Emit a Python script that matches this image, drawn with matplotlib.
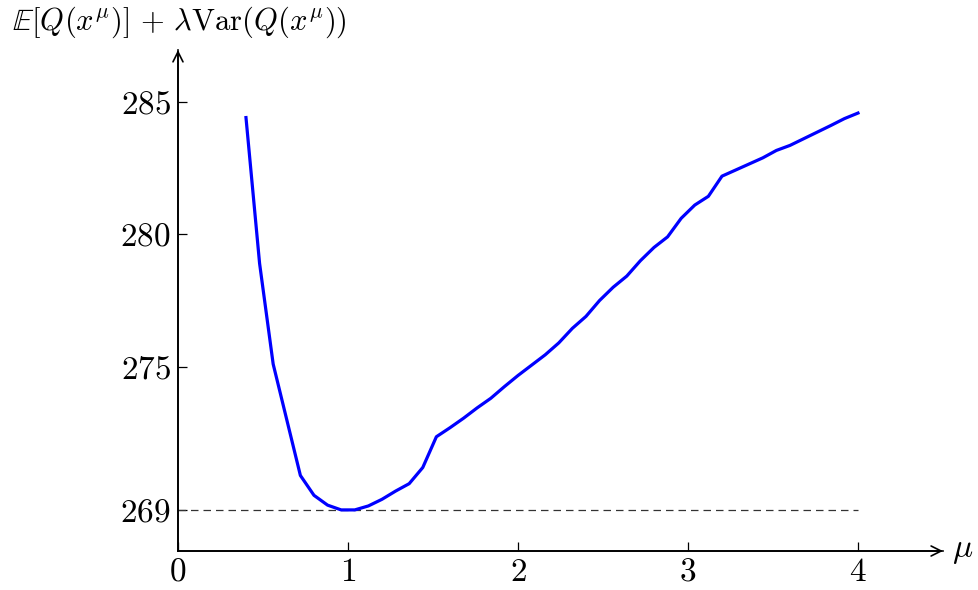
import numpy as np
import matplotlib
matplotlib.use('Agg')
import matplotlib.pyplot as plt

plt.rcParams['mathtext.fontset'] = 'cm'
plt.rcParams['font.family'] = ['cmr10', 'DejaVu Serif']

# data
mu = [0.40, 0.48, 0.56, 0.64, 0.72, 0.80, 0.88, 0.96, 1.04, 1.12,
      1.20, 1.28, 1.36, 1.44, 1.52, 1.60, 1.68, 1.76, 1.84, 1.92,
      2.00, 2.08, 2.16, 2.24, 2.32, 2.40, 2.48, 2.56, 2.64, 2.72,
      2.80, 2.88, 2.96, 3.04, 3.12, 3.20, 3.28, 3.36, 3.44, 3.52,
      3.60, 3.68, 3.76, 3.84, 3.92, 4.00]
objective = [284.4, 278.9, 275.1, 273.0, 270.9, 270.15, 269.78, 269.6, 269.6, 269.75,
             270.0, 270.31, 270.59, 271.2, 272.36, 272.7, 273.06, 273.45, 273.81, 274.25,
             274.67, 275.06, 275.45, 275.9, 276.45, 276.9, 277.5, 278.0, 278.42, 279.0,
             279.5, 279.9, 280.6, 281.1, 281.43, 282.19, 282.42, 282.65, 282.88, 283.16,
             283.35, 283.6, 283.85, 284.1, 284.36, 284.57]
min_value = 269.6
xticks = [0, 1, 2, 3, 4]
yticks = [269.6, 275, 280, 285]
ytick_labels = ['269', '275', '280', '285']

fig = plt.figure(figsize=(9.79, 5.9), dpi=100)
ax = fig.add_axes([0.1818, 0.0661, 0.7814, 0.8492])

ax.plot([0, 4], [min_value, min_value], color='#333333', lw=0.9,
        dashes=(6, 4))
ax.plot(mu, objective, color='#0000ff', lw=2.3, solid_joinstyle='round')

ax.set_xlim(0, 4.5)
ax.set_ylim(268.05, 286.95)

for s in ['top', 'right']:
    ax.spines[s].set_visible(False)
for s in ['left', 'bottom']:
    ax.spines[s].set_linewidth(1.2)

ax.annotate('', xy=(1, 0), xytext=(0, 0), xycoords='axes fraction',
            arrowprops=dict(arrowstyle='->', lw=1.2, color='black',
                            mutation_scale=18, shrinkA=0, shrinkB=0))
ax.annotate('', xy=(0, 1), xytext=(0, 0), xycoords='axes fraction',
            arrowprops=dict(arrowstyle='->', lw=1.2, color='black',
                            mutation_scale=18, shrinkA=0, shrinkB=0))

ax.set_xticks(xticks)
ax.set_xticklabels(['$%d$' % t for t in xticks])
ax.set_yticks(yticks)
ax.set_yticklabels(['$%s$' % t for t in ytick_labels])
ax.tick_params(direction='in', length=6.5, width=0.9, labelsize=24, pad=5)

fig.text(0.012, 0.962, r'$\mathbb{E}[Q(x^\mu)]\, +\, \lambda\mathrm{Var}(Q(x^\mu))$',
         fontsize=22, ha='left', va='center')
fig.text(0.972, 0.066, r'$\mu$', fontsize=24, ha='left', va='center')

fig.savefig('out.png', dpi=100)
